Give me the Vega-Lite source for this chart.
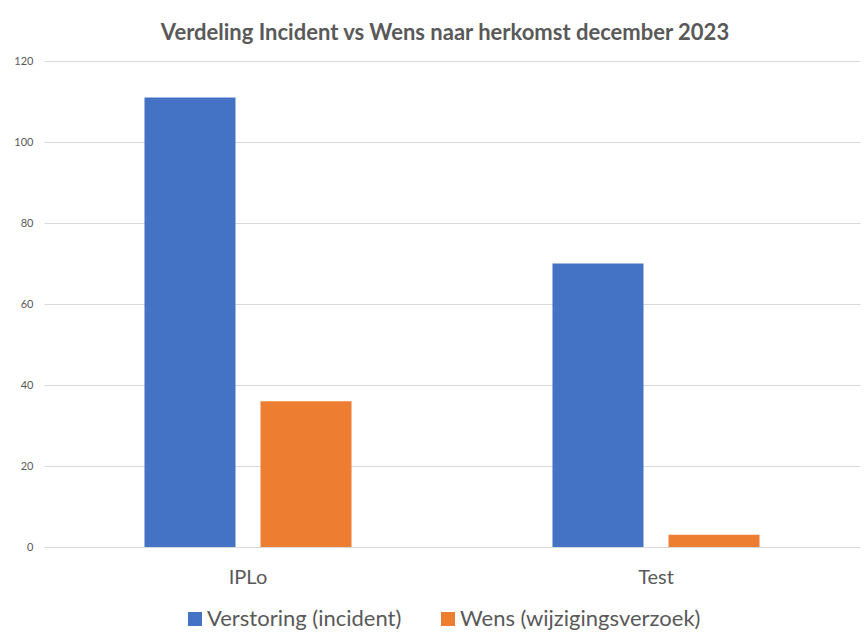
{
  "$schema": "https://vega.github.io/schema/vega-lite/v6.json",
  "width": 816,
  "height": 486,
  "autosize": {"type": "none"},
  "padding": {"left": 44, "top": 61, "right": 8, "bottom": 92},
  "background": "white",
  "title": {
    "text": "Verdeling Incident vs Wens naar herkomst december 2023",
    "font": "Lato",
    "fontSize": 22,
    "fontWeight": "bold",
    "color": "#595959",
    "anchor": "middle",
    "offset": 10,
    "dx": -7
  },
  "data": {
    "values": [
      {"herkomst": "IPLo", "type": "Verstoring (incident)", "aantal": 111},
      {"herkomst": "IPLo", "type": "Wens (wijzigingsverzoek)", "aantal": 36},
      {"herkomst": "Test", "type": "Verstoring (incident)", "aantal": 70},
      {"herkomst": "Test", "type": "Wens (wijzigingsverzoek)", "aantal": 3}
    ]
  },
  "mark": {"type": "bar"},
  "encoding": {
    "x": {
      "field": "herkomst",
      "type": "nominal",
      "scale": {"paddingInner": 0, "paddingOuter": 0},
      "axis": {
        "title": null,
        "labelAngle": 0,
        "labelFont": "Lato",
        "labelFontSize": 20,
        "labelColor": "#595959",
        "labelPadding": 20,
        "domain": false,
        "ticks": false
      }
    },
    "xOffset": {
      "field": "type",
      "type": "nominal",
      "scale": {"paddingInner": 0.2155, "paddingOuter": 0.866}
    },
    "y": {
      "field": "aantal",
      "type": "quantitative",
      "scale": {"domain": [0, 120]},
      "axis": {
        "title": null,
        "values": [0, 20, 40, 60, 80, 100, 120],
        "labelFont": "Lato",
        "labelFontSize": 11,
        "labelColor": "#595959",
        "labelPadding": 11,
        "domain": false,
        "ticks": false,
        "gridColor": "#d9d9d9",
        "gridWidth": 1
      }
    },
    "color": {
      "field": "type",
      "type": "nominal",
      "scale": {
        "domain": ["Verstoring (incident)", "Wens (wijzigingsverzoek)"],
        "range": ["#4472C4", "#ED7D31"]
      },
      "legend": {
        "title": null,
        "orient": "none",
        "legendX": 140,
        "legendY": 547,
        "direction": "horizontal",
        "columns": 2,
        "columnPadding": 35,
        "symbolType": "square",
        "symbolSize": 196,
        "symbolStrokeWidth": 0,
        "labelFont": "Lato",
        "labelFontSize": 22,
        "labelColor": "#595959",
        "labelOffset": 1,
        "labelLimit": 400
      }
    }
  },
  "config": {
    "view": {"stroke": null}
  }
}
